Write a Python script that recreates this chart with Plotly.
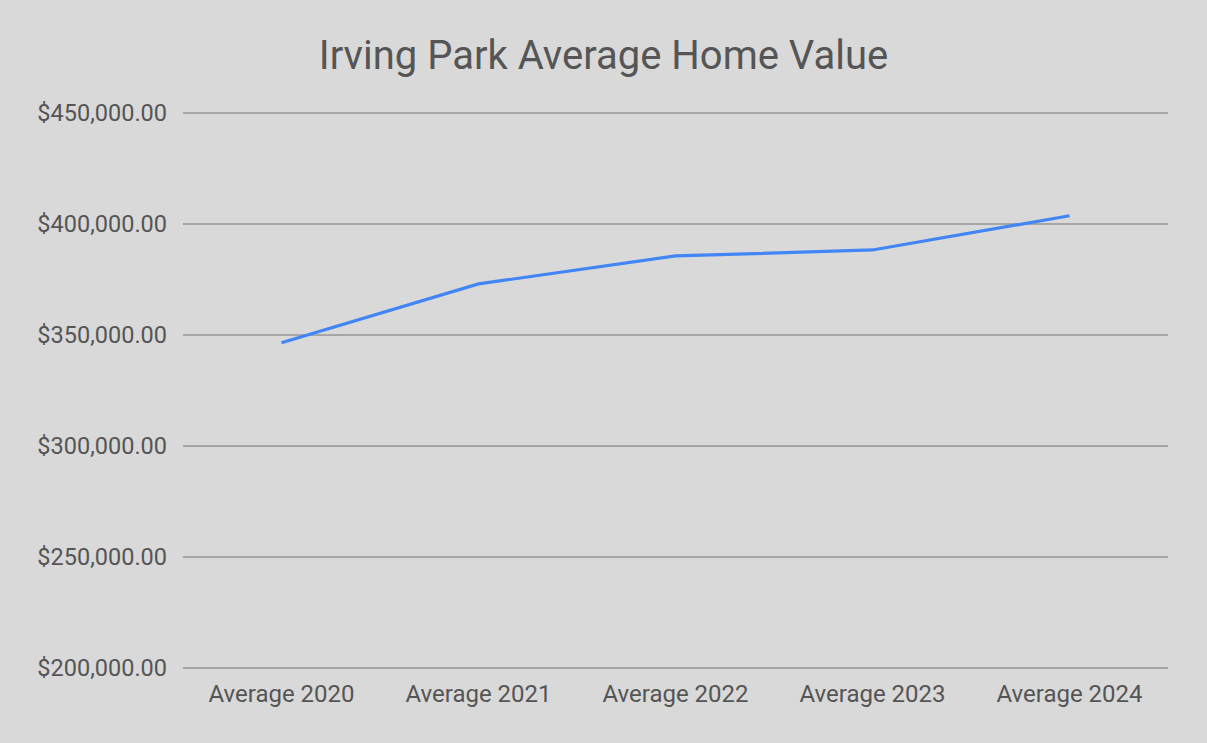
import plotly.graph_objects as go

categories = ["Average 2020", "Average 2021", "Average 2022", "Average 2023", "Average 2024"]
values = [346500, 373000, 385600, 388300, 403700]
tick_vals = [200000, 250000, 300000, 350000, 400000, 450000]
tick_text = ["$200,000.00", "$250,000.00", "$300,000.00", "$350,000.00", "$400,000.00", "$450,000.00"]

fig = go.Figure()
fig.add_trace(go.Scatter(
    x=categories, y=values, mode="lines",
    line=dict(color="#4285f4", width=3.2),
    showlegend=False,
))

fig.update_layout(
    width=1207, height=743,
    paper_bgcolor="#d9d9d9", plot_bgcolor="#d9d9d9",
    font=dict(family="Roboto", color="#555555", size=23),
    title=dict(text="Irving Park Average Home Value", x=0.5, xanchor="center",
               y=0.926, yanchor="middle",
               font=dict(family="Roboto", size=40, color="#555555")),
    margin=dict(l=183, r=39, t=111, b=73),
    xaxis=dict(type="category", range=[-0.5, 4.5], showgrid=False, showline=False,
               ticks="", ticklabelstandoff=7,
               tickfont=dict(size=24, color="#555555"), zeroline=False),
    yaxis=dict(range=[199100, 450900], tickvals=tick_vals, ticktext=tick_text,
               showgrid=True, gridcolor="#a6a6a6", gridwidth=1.5, zeroline=False,
               ticks="", ticklabelstandoff=15, tickfont=dict(size=23.5, color="#555555")),
)

fig.write_html("out.html", config={"displayModeBar": False},
               post_script="document.body.style.margin='0';")
